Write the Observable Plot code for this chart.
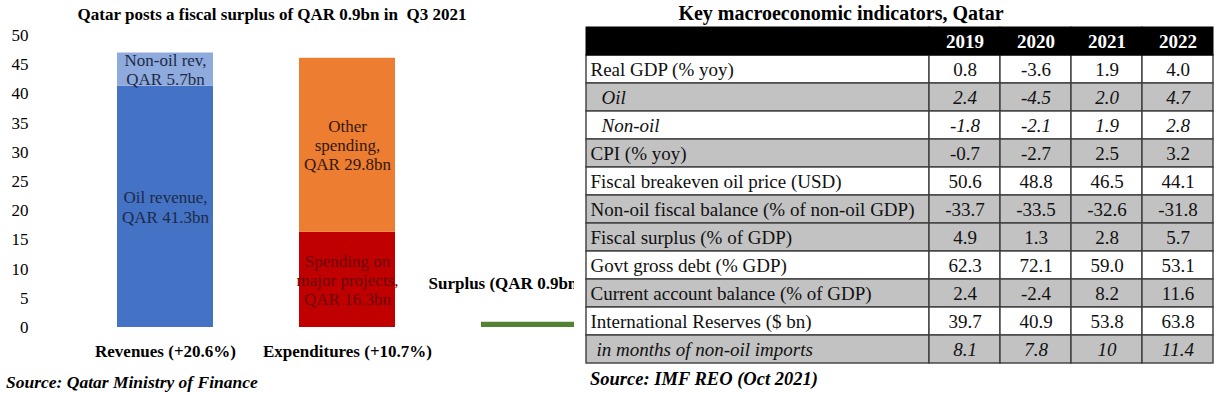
<!DOCTYPE html>
<html>
<head>
<meta charset="utf-8">
<script src="https://cdn.jsdelivr.net/npm/d3@7"></script>
<script src="https://cdn.jsdelivr.net/npm/@observablehq/plot@0.6"></script>
<style>
  html, body { margin: 0; padding: 0; background: #fff; }
  #root { position: relative; width: 1222px; height: 393px; overflow: hidden; background: #fff;
          font-family: "Liberation Serif", "Times New Roman", serif; color: #000; }
  .abs { position: absolute; white-space: nowrap; }
  #leftChart { position: absolute; left: 0; top: 0; width: 574px; height: 368px; overflow: hidden; }
  #tableLabels { position: absolute; left: 585px; top: 25px; }
  #tableValues { position: absolute; left: 928px; top: 25px; }
  #root svg { max-width: none !important; height: auto; }
  #leftChart g[aria-label="x-axis tick label"] text { font-weight: bold; }
</style>
</head>
<body>
<div id="root">
  <div class="abs" style="left:0;top:4px;width:544px;text-align:center;font-weight:bold;font-size:17px;line-height:22px;">Qatar posts a fiscal surplus of QAR 0.9bn in &nbsp;Q3 2021</div>
  <div id="leftChart"></div>
  <div class="abs" style="left:6px;top:371px;font-weight:bold;font-style:italic;font-size:17.5px;line-height:22px;">Source: Qatar Ministry of Finance</div>
  <div class="abs" style="left:641px;top:1px;width:400px;text-align:center;font-weight:bold;font-size:20px;line-height:24px;">Key macroeconomic indicators, Qatar</div>
  <div id="tableLabels"></div>
  <div id="tableValues"></div>
  <div class="abs" style="left:590px;top:368px;font-weight:bold;font-style:italic;font-size:18.5px;line-height:22px;">Source: IMF REO (Oct 2021)</div>
</div>
<script>
// ---------- Left chart data ----------
const categories = ["Revenues", "Expenditures", "Surplus"];
const categoryLabels = ["Revenues (+20.6%)", "Expenditures (+10.7%)", ""];
const segmentCategory = ["Revenues", "Revenues", "Expenditures", "Expenditures", "Surplus"];
const segmentPart = ["Oil revenue", "Non-oil revenue", "Major projects", "Other spending", "Surplus"];
const segmentValue = [41.3, 5.7, 16.3, 29.8, 0.9];
const segmentLabel = [
  "Oil revenue,\nQAR 41.3bn",
  "Non-oil rev,\nQAR 5.7bn",
  "Spending on\nmajor projects,\nQAR 16.3bn",
  "Other\nspending,\nQAR 29.8bn",
  "Surplus (QAR 0.9bn)"
];
const yTicks = [0, 5, 10, 15, 20, 25, 30, 35, 40, 45, 50];

// ---------- Table data ----------
const years = ["2019", "2020", "2021", "2022"];
const rowLabels = [
  "Real GDP (% yoy)",
  "Oil",
  "Non-oil",
  "CPI (% yoy)",
  "Fiscal breakeven oil price (USD)",
  "Non-oil fiscal balance (% of non-oil GDP)",
  "Fiscal surplus (% of GDP)",
  "Govt gross debt (% GDP)",
  "Current account balance (% of GDP)",
  "International Reserves ($ bn)",
  "in months of non-oil imports"
];
const values2019 = ["0.8", "2.4", "-1.8", "-0.7", "50.6", "-33.7", "4.9", "62.3", "2.4", "39.7", "8.1"];
const values2020 = ["-3.6", "-4.5", "-2.1", "-2.7", "48.8", "-33.5", "1.3", "72.1", "-2.4", "40.9", "7.8"];
const values2021 = ["1.9", "2.0", "1.9", "2.5", "46.5", "-32.6", "2.8", "59.0", "8.2", "53.8", "10"];
const values2022 = ["4.0", "4.7", "2.8", "3.2", "44.1", "-31.8", "5.7", "53.1", "11.6", "63.8", "11.4"];

// ---------- Styles ----------
const FONT = "'Liberation Serif', 'Times New Roman', serif";
const barColor = {
  "Oil revenue": "#4472c4",
  "Non-oil revenue": "#8faadc",
  "Major projects": "#c00000",
  "Other spending": "#ed7d31",
  "Surplus": "#548235"
};
const labelColor = {
  "Oil revenue": "#1c2a48",
  "Non-oil revenue": "#1c2a48",
  "Major projects": "#6a0808",
  "Other spending": "#33180a",
  "Surplus": "#000000"
};
const shadedRows = new Set(["Oil", "CPI (% yoy)", "Non-oil fiscal balance (% of non-oil GDP)",
  "Fiscal surplus (% of GDP)", "Current account balance (% of GDP)", "in months of non-oil imports"]);
const italicRows = new Set(["Oil", "Non-oil", "in months of non-oil imports"]);
const GRAY = "#c2c2c2";
const LINE = "#3d3d3d";

// ---------- Left chart ----------
const segments = segmentValue.map((v, i) => ({
  category: segmentCategory[i], part: segmentPart[i], value: v, label: segmentLabel[i]
}));
const stackedSegments = segments.filter(d => d.category !== "Surplus");
const surplusSegments = segments.filter(d => d.category === "Surplus");

const left = Plot.plot({
  width: 665, height: 368,
  marginTop: 35, marginBottom: 41, marginLeft: 30, marginRight: 0,
  style: { fontFamily: FONT, fontSize: "17px", color: "#000", background: "transparent", overflow: "visible", maxWidth: "none" },
  x: { domain: categories, padding: 0.47, label: null },
  y: { domain: [0, 50], label: null },
  color: { type: "identity" },
  marks: [
    Plot.barY(segments, Plot.stackY({ x: "category", y: "value", fill: d => barColor[d.part] })),
    Plot.text(stackedSegments, Plot.stackY({
      x: "category", y: "value", text: "label",
      fill: d => labelColor[d.part], fontSize: 17, lineHeight: 1.12
    })),
    Plot.text(surplusSegments, {
      x: "category", y: "value", text: "label", textAnchor: "start",
      dx: -101, dy: -39, fontWeight: "bold", fontSize: 17, fill: "#000"
    }),
    Plot.axisY({ ticks: yTicks, tickSize: 0, tickPadding: 2, label: null, fontSize: 17 }),
    Plot.axisX({
      tickSize: 0, tickPadding: 17, label: null, fontSize: 17, fontWeight: "bold",
      tickFormat: c => categoryLabels[categories.indexOf(c)]
    })
  ]
});
document.getElementById("leftChart").appendChild(left);

// ---------- Table ----------
const HEADER = "header";
const yDomain = [HEADER, ...rowLabels];
const yearValues = [values2019, values2020, values2021, values2022];
const tableCells = [];
rowLabels.forEach((r, i) => years.forEach((y, j) => tableCells.push({ row: r, year: y, value: yearValues[j][i] })));
const headerCells = years.map(y => ({ row: HEADER, year: y }));
const labelRows = rowLabels.map(r => ({ row: r, label: r }));

const tableStyle = { fontFamily: FONT, fontSize: "19px", color: "#000", background: "transparent", overflow: "visible", maxWidth: "none" };

const labelsPlot = Plot.plot({
  width: 345, height: 340, marginTop: 1, marginBottom: 1, marginLeft: 1, marginRight: 1,
  style: tableStyle,
  y: { domain: yDomain, padding: 0, axis: null },
  color: { type: "identity" },
  marks: [
    Plot.cell(labelRows, { y: "row", fill: d => shadedRows.has(d.row) ? GRAY : "#ffffff", stroke: LINE, strokeWidth: 1.4 }),
    Plot.cell([{ row: HEADER }], { y: "row", fill: "#000", stroke: "#000" }),
    Plot.text(labelRows.filter(d => !italicRows.has(d.row)), {
      y: "row", text: "label", frameAnchor: "left", textAnchor: "start", dx: 4, fontSize: 19, fill: "#111"
    }),
    Plot.text(labelRows.filter(d => d.row === "Oil" || d.row === "Non-oil"), {
      y: "row", text: "label", frameAnchor: "left", textAnchor: "start", dx: 15, fontSize: 19, fontStyle: "italic", fill: "#111"
    }),
    Plot.text(labelRows.filter(d => d.row === "in months of non-oil imports"), {
      y: "row", text: "label", frameAnchor: "left", textAnchor: "start", dx: 10, fontSize: 19, fontStyle: "italic", fill: "#111"
    })
  ]
});
document.getElementById("tableLabels").appendChild(labelsPlot);

const valuesPlot = Plot.plot({
  width: 286, height: 340, marginTop: 1, marginBottom: 1, marginLeft: 1, marginRight: 1,
  style: tableStyle,
  x: { domain: years, padding: 0, axis: null },
  y: { domain: yDomain, padding: 0, axis: null },
  color: { type: "identity" },
  marks: [
    Plot.cell(tableCells, { x: "year", y: "row", fill: d => shadedRows.has(d.row) ? GRAY : "#ffffff", stroke: LINE, strokeWidth: 1.4 }),
    Plot.cell(headerCells, { x: "year", y: "row", fill: "#000", stroke: "#000" }),
    Plot.text(tableCells.filter(d => !italicRows.has(d.row)), { x: "year", y: "row", text: "value", fontSize: 19, fill: "#111" }),
    Plot.text(tableCells.filter(d => italicRows.has(d.row)), { x: "year", y: "row", text: "value", fontSize: 19, fontStyle: "italic", fill: "#111" }),
    Plot.text(headerCells, { x: "year", y: "row", text: "year", fontSize: 19, fontWeight: "bold", fill: "#fff" })
  ]
});
document.getElementById("tableValues").appendChild(valuesPlot);
</script>
</body>
</html>
